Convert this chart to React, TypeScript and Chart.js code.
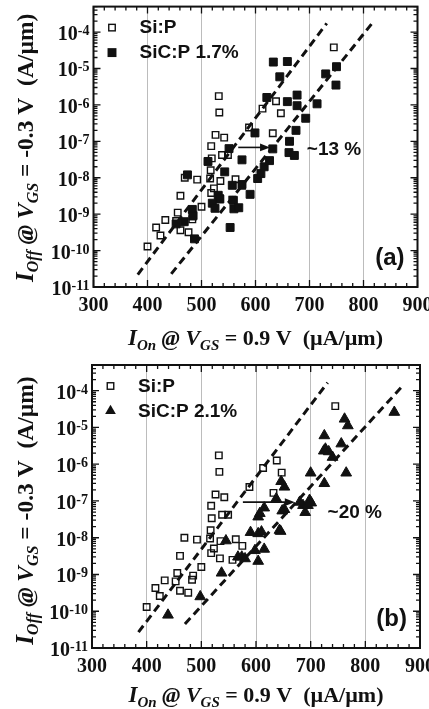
import React, { useEffect, useRef } from "react";
import { Chart, registerables } from "chart.js";

Chart.register(...registerables);

// ---------------- data ----------------
const X_MIN = 300;
const X_MAX = 900;
const X_MAJOR = [300, 400, 500, 600, 700, 800, 900];
const Y_MIN = 1e-11;
const Y_MAX = 5e-4;
const Y_DECADES = [-11, -10, -9, -8, -7, -6, -5, -4];

// Si:P reference (open squares, same in both panels)
const SIP_X = [400, 416, 424, 433, 461, 456, 461, 476, 483, 485, 500, 469, 492, 516, 535, 517, 519, 523, 518, 563, 518, 526, 542, 538, 549, 532, 533, 588, 613, 638, 647, 632, 745, 534, 557, 575, 453];
const SIP_Y = [1.3e-10, 4.3e-10, 2.6e-10, 6.9e-10, 3.2e-9, 1.1e-9, 3.6e-10, 3.2e-10, 7.2e-10, 9.3e-10, 1.6e-9, 1.0e-8, 8.9e-9, 9.5e-9, 8.1e-9, 1.6e-8, 3.4e-8, 5.1e-9, 3.8e-9, 9.1e-9, 7.4e-8, 1.5e-7, 1.26e-7, 4.2e-8, 4.2e-8, 1.74e-6, 6.2e-7, 2.4e-7, 7.9e-7, 1.26e-6, 5.9e-7, 1.66e-7, 3.8e-5, 2.75e-9, 2.5e-9, 6.0e-9, 6.5e-10];

// SiC:P 1.7% (filled squares, panel a)
const SIC17_X = [487, 468, 453, 483, 474, 512, 543, 551, 531, 534, 520, 525, 559, 560, 569, 557, 575, 590, 604, 575, 553, 610, 616, 626, 632, 599, 662, 672, 663, 675, 693, 677, 659, 714, 621, 645, 633, 659, 730, 750, 749, 677, 484];
const SIC17_Y = [2.1e-10, 6.2e-10, 5.4e-10, 1.35e-9, 1.2e-8, 2.8e-8, 1.45e-8, 6.3e-8, 3.3e-9, 2.6e-9, 2.0e-9, 1.45e-9, 2.4e-9, 1.4e-9, 1.5e-9, 6.2e-9, 6.5e-9, 3.5e-9, 9.5e-9, 3.1e-8, 4.3e-10, 1.3e-8, 2.0e-8, 2.95e-8, 6.2e-8, 1.7e-7, 4.9e-8, 4.1e-8, 1.0e-7, 2.0e-7, 4.3e-7, 1.86e-6, 1.23e-6, 1.07e-6, 1.6e-6, 5.9e-6, 1.5e-5, 1.55e-5, 7.1e-6, 1.12e-5, 3.5e-6, 9.5e-7, 8.9e-10];

// SiC:P 2.1% (filled triangles, panel b)
const SIC21_X = [439, 498, 537, 545, 567, 574, 580, 604, 590, 604, 598, 615, 604, 615, 637, 648, 645, 646, 652, 686, 690, 698, 701, 700, 725, 724, 725, 762, 768, 727, 740, 733, 756, 765, 853, 607, 680, 695, 652, 643, 610];
const SIC21_Y = [7.9e-11, 2.5e-10, 1.1e-9, 8.3e-9, 3.0e-9, 3.0e-9, 2.7e-9, 2.3e-9, 1.4e-8, 1.3e-8, 4.5e-9, 4.9e-9, 3.7e-8, 6.5e-8, 1.15e-7, 5.4e-8, 1.5e-8, 3.4e-7, 2.4e-7, 7.6e-8, 4.9e-8, 1.05e-7, 8.9e-8, 5.8e-7, 3.0e-7, 2.3e-6, 6.0e-6, 1.7e-5, 1.12e-5, 2.6e-6, 1.55e-6, 2.2e-6, 3.6e-6, 5.8e-7, 2.6e-5, 4.6e-8, 9.3e-8, 7.6e-8, 5.9e-8, 1.6e-8, 1.45e-8];

// dashed guide lines
const GUIDE_A1_X = [382, 732];
const GUIDE_A1_Y = [2.2e-11, 1.74e-4];
const GUIDE_A2_X = [444, 816];
const GUIDE_A2_Y = [2.3e-11, 1.74e-4];
const GUIDE_B1_X = [385, 731];
const GUIDE_B1_Y = [2.7e-11, 1.66e-4];
const GUIDE_B2_X = [470, 871];
const GUIDE_B2_Y = [4.5e-11, 1.5e-4];

// arrows and shift labels
const ARROW_A_X = [568, 627];
const ARROW_A_Y = 6.8e-8;
const ARROW_B_X = [576, 671];
const ARROW_B_Y = 9.3e-8;
const SHIFT_A = { text: "~13 %", x: 695, y: 5.8e-8 };
const SHIFT_B = { text: "~20 %", x: 731, y: 4.9e-8 };

const LEGEND_REF = "Si:P";
const LEGEND_A = "SiC:P 1.7%";
const LEGEND_B = "SiC:P 2.1%";

// ---------------- drawing helpers ----------------
const SERIF = '"Liberation Serif", "Times New Roman", serif';
const SANS = '"Liberation Sans", Arial, sans-serif';
const INK = "#111";

type Part = { t: string; f: string; dy?: number };

function drawRich(ctx: CanvasRenderingContext2D, parts: Part[], x: number, y: number, align: "left" | "center" | "right") {
  let w = 0;
  for (const p of parts) {
    ctx.font = p.f;
    w += ctx.measureText(p.t).width;
  }
  let cx = align === "center" ? x - w / 2 : align === "right" ? x - w : x;
  ctx.textAlign = "left";
  ctx.textBaseline = "alphabetic";
  for (const p of parts) {
    ctx.font = p.f;
    ctx.fillText(p.t, cx, y + (p.dy || 0));
    cx += ctx.measureText(p.t).width;
  }
}

function marker(ctx: CanvasRenderingContext2D, kind: string, x: number, y: number) {
  ctx.save();
  ctx.strokeStyle = INK;
  ctx.fillStyle = INK;
  if (kind === "open") {
    ctx.lineWidth = 1.4;
    const s = 4.6 * Math.SQRT1_2;
    ctx.strokeRect(x - s, y - s, 2 * s, 2 * s);
  } else if (kind === "rect") {
    const s = 5.6 * Math.SQRT1_2 + 0.5;
    ctx.fillRect(x - s, y - s, 2 * s, 2 * s);
  } else {
    const r = 6.2;
    ctx.beginPath();
    ctx.moveTo(x, y - r);
    ctx.lineTo(x + r * Math.sin((2 * Math.PI) / 3), y - r * Math.cos((2 * Math.PI) / 3));
    ctx.lineTo(x + r * Math.sin((4 * Math.PI) / 3), y - r * Math.cos((4 * Math.PI) / 3));
    ctx.closePath();
    ctx.fill();
  }
  ctx.restore();
}

type PanelCfg = {
  label: string;
  legend: string;
  kind: "rect" | "triangle";
  xs: number[];
  ys: number[];
  g1x: number[];
  g1y: number[];
  g2x: number[];
  g2y: number[];
  arrowX: number[];
  arrowY: number;
  shift: { text: string; x: number; y: number };
  height: number;
  titleDy: number;
  yTitleShift: number;
  pad: { left: number; right: number; top: number; bottom: number };
};

const pts = (xs: number[], ys: number[]) => xs.map((x, i) => ({ x, y: ys[i] }));

function decorPlugin(cfg: PanelCfg) {
  return {
    id: "decor",
    afterDraw(chart: any) {
      const ctx: CanvasRenderingContext2D = chart.ctx;
      const { left, right, top, bottom } = chart.chartArea;
      const sx = chart.scales.x;
      const sy = chart.scales.y;
      ctx.save();
      ctx.strokeStyle = INK;
      ctx.fillStyle = INK;

      // ticks (inward, all four sides)
      ctx.lineWidth = 1.3;
      ctx.beginPath();
      for (let v = X_MIN; v <= X_MAX; v += 20) {
        const px = sx.getPixelForValue(v);
        const len = v % 100 === 0 ? 7 : 4;
        ctx.moveTo(px, bottom);
        ctx.lineTo(px, bottom - len);
        ctx.moveTo(px, top);
        ctx.lineTo(px, top + len);
      }
      for (const d of Y_DECADES) {
        for (let k = 1; k <= 9; k++) {
          const v = k * Math.pow(10, d);
          if (v < Y_MIN * 0.999 || v > Y_MAX * 1.001) continue;
          const py = sy.getPixelForValue(v);
          const len = k === 1 ? 7 : 4;
          ctx.moveTo(left, py);
          ctx.lineTo(left + len, py);
          ctx.moveTo(right, py);
          ctx.lineTo(right - len, py);
        }
      }
      ctx.stroke();

      // frame
      ctx.lineWidth = 2;
      ctx.strokeRect(left, top, right - left, bottom - top);

      // x tick labels
      ctx.font = `bold 20px ${SERIF}`;
      ctx.textAlign = "center";
      ctx.textBaseline = "alphabetic";
      for (const v of X_MAJOR) {
        ctx.fillText(String(v), sx.getPixelForValue(v), bottom + 23.5);
      }

      // y tick labels 10^n
      for (const d of Y_DECADES) {
        const py = sy.getPixelForValue(Math.pow(10, d));
        drawRich(
          ctx,
          [
            { t: "10", f: `bold 20px ${SERIF}` },
            { t: "-" + String(-d), f: `bold 14px ${SERIF}`, dy: -5 },
          ],
          left - 4,
          py + 8,
          "right"
        );
      }

      // x title
      drawRich(
        ctx,
        [
          { t: "I", f: `italic bold 23px ${SERIF}` },
          { t: "On", f: `italic bold 15px ${SERIF}`, dy: 5 },
          { t: " @ ", f: `italic bold 22px ${SERIF}` },
          { t: "V", f: `italic bold 22px ${SERIF}` },
          { t: "GS", f: `italic bold 15px ${SERIF}`, dy: 5 },
          { t: " = 0.9 V  (\u00b5A/\u00b5m)", f: `bold 22px ${SERIF}` },
        ],
        (left + right) / 2,
        bottom + cfg.titleDy,
        "center"
      );

      // y title (rotated)
      ctx.save();
      ctx.translate(33, (top + bottom) / 2 + cfg.yTitleShift);
      ctx.rotate(-Math.PI / 2);
      drawRich(
        ctx,
        [
          { t: "I", f: `italic bold 25px ${SERIF}` },
          { t: "Off", f: `italic bold 16px ${SERIF}`, dy: 5 },
          { t: " @ ", f: `italic bold 23.5px ${SERIF}` },
          { t: "V", f: `italic bold 23.5px ${SERIF}` },
          { t: "GS", f: `italic bold 16px ${SERIF}`, dy: 5 },
          { t: " = -0.3 V  (A/\u00b5m)", f: `bold 23.5px ${SERIF}` },
        ],
        0,
        0,
        "center"
      );
      ctx.restore();

      // legend
      ctx.font = `bold 19px ${SANS}`;
      ctx.textAlign = "left";
      ctx.textBaseline = "middle";
      marker(ctx, "open", left + 18.5, top + 21);
      ctx.fillText(LEGEND_REF, left + 46, top + 21.5);
      marker(ctx, cfg.kind === "rect" ? "rect" : "tri", left + 18.5, top + 46);
      ctx.fillText(cfg.legend, left + 46, top + 46.5);

      // arrow
      const ay = sy.getPixelForValue(cfg.arrowY);
      const ax1 = sx.getPixelForValue(cfg.arrowX[0]);
      const ax2 = sx.getPixelForValue(cfg.arrowX[1]);
      ctx.lineWidth = 1.6;
      ctx.beginPath();
      ctx.moveTo(ax1, ay);
      ctx.lineTo(ax2 - 8, ay);
      ctx.stroke();
      ctx.beginPath();
      ctx.moveTo(ax2, ay);
      ctx.lineTo(ax2 - 10, ay - 3.8);
      ctx.lineTo(ax2 - 10, ay + 3.8);
      ctx.closePath();
      ctx.fill();

      // shift label
      ctx.font = `bold 19px ${SANS}`;
      ctx.textBaseline = "middle";
      ctx.textAlign = "left";
      ctx.fillText(cfg.shift.text, sx.getPixelForValue(cfg.shift.x), sy.getPixelForValue(cfg.shift.y));

      // panel label
      ctx.font = `bold 24px ${SANS}`;
      ctx.textAlign = "right";
      ctx.fillText(cfg.label, right - 13, bottom - 29);

      ctx.restore();
    },
  };
}

function Panel({ cfg, top }: { cfg: PanelCfg; top: number }) {
  const ref = useRef<HTMLCanvasElement | null>(null);
  useEffect(() => {
    if (!ref.current) return;
    const guideStyle = {
      showLine: true,
      borderColor: INK,
      borderWidth: 3,
      borderDash: [8, 5],
      pointRadius: 0,
      fill: false,
    };
    const chart = new Chart(ref.current, {
      type: "scatter",
      data: {
        datasets: [
          {
            label: LEGEND_REF,
            data: pts(SIP_X, SIP_Y),
            pointStyle: "rect",
            pointRadius: 4.6,
            borderColor: INK,
            borderWidth: 1.4,
            backgroundColor: "rgba(0,0,0,0)",
            order: 3,
          },
          {
            label: cfg.legend,
            data: pts(cfg.xs, cfg.ys),
            pointStyle: cfg.kind,
            pointRadius: cfg.kind === "rect" ? 5.6 : 6.2,
            borderColor: INK,
            borderWidth: 1,
            backgroundColor: INK,
            order: 2,
          },
          { label: "guide1", data: pts(cfg.g1x, cfg.g1y), ...guideStyle, order: 1 } as any,
          { label: "guide2", data: pts(cfg.g2x, cfg.g2y), ...guideStyle, order: 1 } as any,
        ],
      },
      options: {
        responsive: false,
        animation: false,
        layout: { padding: cfg.pad },
        plugins: { legend: { display: false }, tooltip: { enabled: false } },
        scales: {
          x: {
            type: "linear",
            min: X_MIN,
            max: X_MAX,
            ticks: { display: false, stepSize: 100 },
            grid: { display: true, color: "#b4b4b4", lineWidth: 0.9, drawTicks: false },
            border: { display: false },
            afterFit: (s: any) => {
              s.height = 0;
            },
          },
          y: {
            type: "logarithmic",
            min: Y_MIN,
            max: Y_MAX,
            ticks: { display: false },
            grid: { display: false, drawTicks: false },
            border: { display: false },
            afterFit: (s: any) => {
              s.width = 0;
            },
          },
        },
      },
      plugins: [decorPlugin(cfg)],
    } as any);
    return () => chart.destroy();
  }, [cfg]);
  return (
    <canvas
      ref={ref}
      width={429}
      height={cfg.height}
      style={{ position: "absolute", left: 0, top, width: 429, height: cfg.height, display: "block" }}
    />
  );
}

const PANEL_A: PanelCfg = {
  label: "(a)",
  legend: LEGEND_A,
  kind: "rect",
  xs: SIC17_X,
  ys: SIC17_Y,
  g1x: GUIDE_A1_X,
  g1y: GUIDE_A1_Y,
  g2x: GUIDE_A2_X,
  g2y: GUIDE_A2_Y,
  arrowX: ARROW_A_X,
  arrowY: ARROW_A_Y,
  shift: SHIFT_A,
  height: 355,
  titleDy: 58,
  yTitleShift: 1,
  pad: { left: 93.5, right: 11.5, top: 6, bottom: 68 },
};

const PANEL_B: PanelCfg = {
  label: "(b)",
  legend: LEGEND_B,
  kind: "triangle",
  xs: SIC21_X,
  ys: SIC21_Y,
  g1x: GUIDE_B1_X,
  g1y: GUIDE_B1_Y,
  g2x: GUIDE_B2_X,
  g2y: GUIDE_B2_Y,
  arrowX: ARROW_B_X,
  arrowY: ARROW_B_Y,
  shift: SHIFT_B,
  height: 354,
  titleDy: 54,
  yTitleShift: 4,
  pad: { left: 92, right: 9, top: 10, bottom: 61 },
};

export default function App() {
  return (
    <div style={{ position: "fixed", left: 0, top: 0, width: 429, height: 709, background: "#fff", overflow: "hidden" }}>
      <Panel cfg={PANEL_A} top={0} />
      <Panel cfg={PANEL_B} top={355} />
    </div>
  );
}
